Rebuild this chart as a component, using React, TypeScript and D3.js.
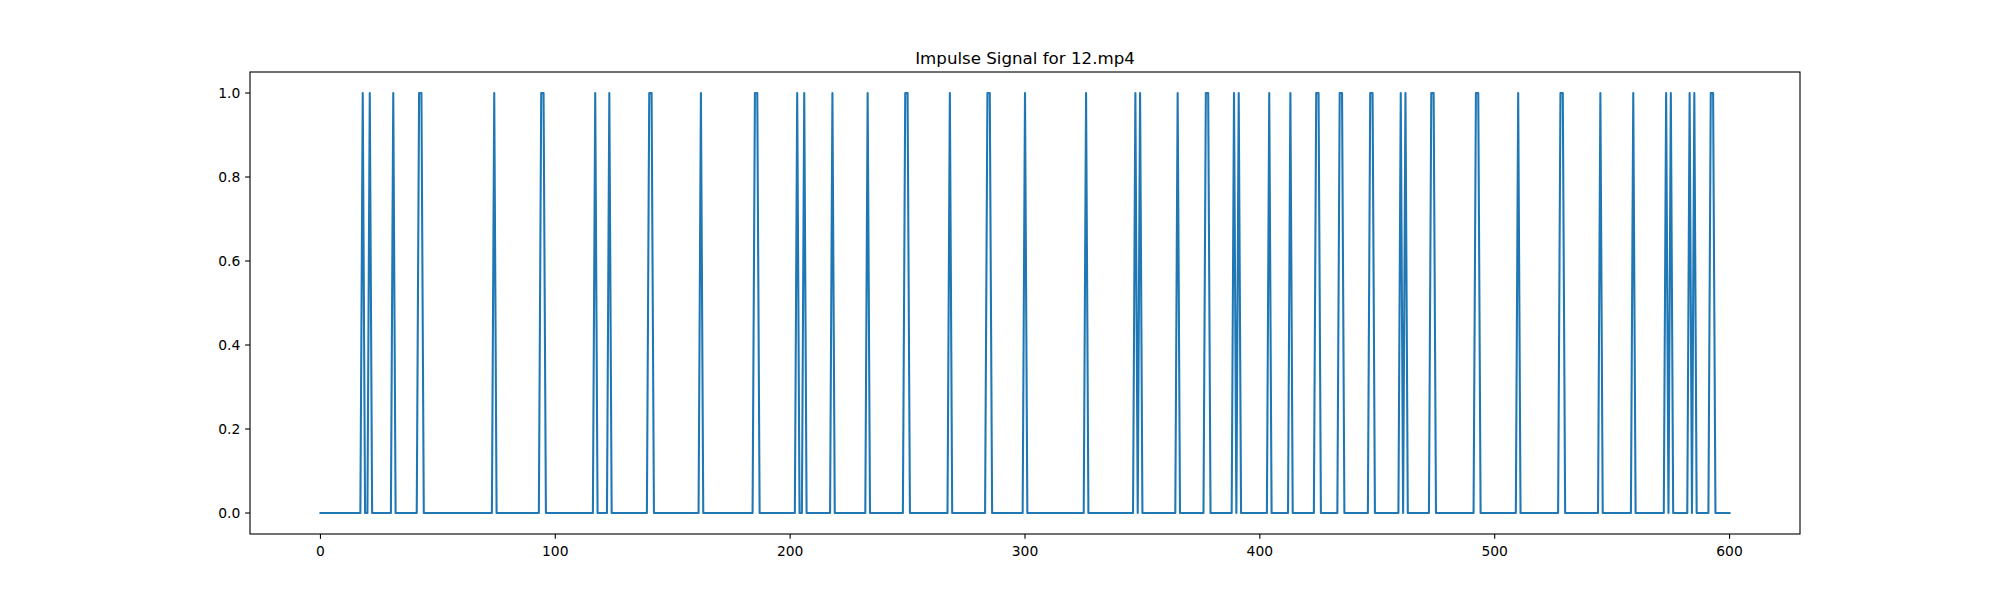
import React from "react";
import * as d3 from "d3";

// Frame indices where the impulse signal equals 1
const impulseFrames: number[] = [
  18, 21, 31, 42, 43, 74, 94, 95, 117, 123, 140, 141, 162,
  185, 186, 203, 206, 218, 233, 249, 250, 268,
  284, 285, 300, 326, 347, 349, 365,
  377, 378, 389, 391, 404, 413, 424, 425, 434, 435, 447, 448, 460, 462,
  473, 474, 492, 493, 510, 528, 529, 545,
  559, 573, 575, 583, 585, 592, 593,
];
const frameCount = 601;
const xTicks = [0, 100, 200, 300, 400, 500, 600];
const yTicks = [0, 0.2, 0.4, 0.6, 0.8, 1.0];
const title = "Impulse Signal for 12.mp4";

const W = 2000;
const H = 600;
const L = 250, R = 1800, T = 72, B = 534;

export default function App() {
  const ones = new Set(impulseFrames);
  const data = d3.range(frameCount).map((i) => ({ x: i, y: ones.has(i) ? 1 : 0 }));
  const x = d3.scaleLinear().domain([-30, 630]).range([L, R]);
  const y = d3.scaleLinear().domain([-0.05, 1.05]).range([B, T]);
  const line = d3
    .line<{ x: number; y: number }>()
    .x((d) => x(d.x))
    .y((d) => y(d.y));
  const font = "DejaVu Sans, sans-serif";
  const tickLen = 4.86;
  return (
    <svg
      width={W}
      height={H}
      style={{ position: "absolute", left: 0, top: 0, background: "#fff" }}
      fontFamily={font}
    >
      <rect x={0} y={0} width={W} height={H} fill="#fff" />
      <clipPath id="clip">
        <rect x={L} y={T} width={R - L} height={B - T} />
      </clipPath>
      <path
        d={line(data) || ""}
        fill="none"
        stroke="#1f77b4"
        strokeWidth={2.08}
        strokeLinejoin="round"
        strokeLinecap="square"
        clipPath="url(#clip)"
      />
      <rect x={L} y={T} width={R - L} height={B - T} fill="none" stroke="#000" strokeWidth={1.11} />
      {xTicks.map((t) => (
        <g key={"x" + t}>
          <line x1={x(t)} x2={x(t)} y1={B} y2={B + tickLen} stroke="#000" strokeWidth={1.11} />
          <text x={x(t)} y={555.5} textAnchor="middle" fontSize={13.89} fill="#000">
            {t}
          </text>
        </g>
      ))}
      {yTicks.map((t) => (
        <g key={"y" + t}>
          <line x1={L - tickLen} x2={L} y1={y(t)} y2={y(t)} stroke="#000" strokeWidth={1.11} />
          <text x={L - 2 * tickLen} y={y(t) + 5.1} textAnchor="end" fontSize={13.89} fill="#000">
            {t.toFixed(1)}
          </text>
        </g>
      ))}
      <text x={(L + R) / 2} y={64} textAnchor="middle" fontSize={16.67} fill="#000">
        {title}
      </text>
    </svg>
  );
}
